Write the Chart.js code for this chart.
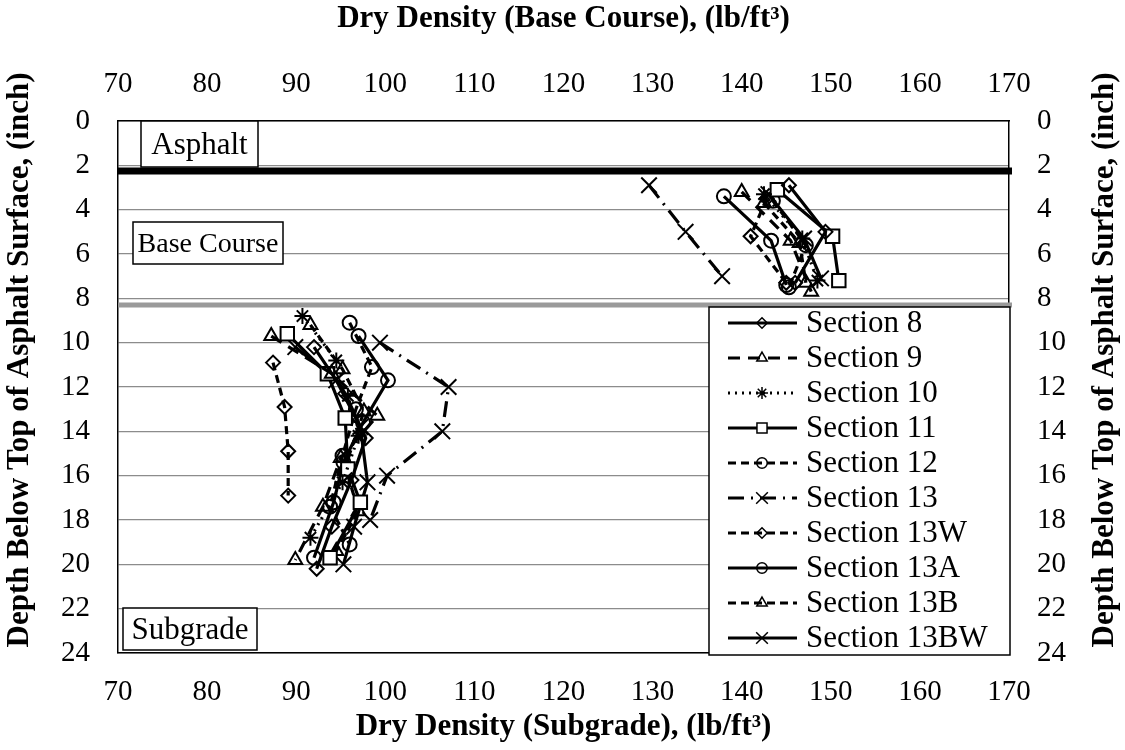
<!DOCTYPE html>
<html>
<head>
<meta charset="utf-8">
<script src="https://cdn.jsdelivr.net/npm/chart.js@4.4.1/dist/chart.umd.min.js"></script>
<style>
  html, body { margin: 0; padding: 0; background: #ffffff; }
  #wrap { width: 1125px; height: 750px; position: relative; }
</style>
</head>
<body>
<div id="wrap"><canvas id="c"></canvas></div>
<script>
// Dry density (lb/ft3) vs. depth below top of asphalt (inch), [density, depth]
// Base course readings (plotted on the top axis)
const base8    = [[145.3, 2.9], [149.4, 5.0], [146.0, 7.3]];
const base9    = [[140.0, 3.2], [145.5, 5.4], [147.8, 7.7]];
const base10   = [[142.5, 3.3], [146.8, 5.3], [148.5, 7.2]];
const base11   = [[144.0, 3.1], [150.2, 5.2], [150.9, 7.2]];
const base12   = [[143.5, 3.6], [147.2, 5.6], [145.3, 7.5]];
const base13   = [[129.6, 2.9], [133.7, 5.0], [137.8, 7.0]];
const base13W  = [[142.8, 3.5], [141.0, 5.2], [145.0, 7.3]];
const base13A  = [[138.0, 3.4], [143.3, 5.4], [145.0, 7.4]];
const base13B  = [[142.5, 3.7], [146.5, 5.5], [147.2, 7.3]];
const base13BW = [[143.0, 3.3], [147.0, 5.3], [148.9, 7.1]];

// Subgrade readings (plotted on the bottom axis)
const sub8    = [[92.0, 10.2], [95.5, 12.3], [97.8, 14.3], [96.2, 16.2], [94.0, 18.3], [92.3, 20.2]];
const sub9    = [[87.2, 9.7], [94.0, 11.4], [99.1, 13.3], [95.0, 15.2], [93.0, 17.4], [89.9, 19.8]];
const sub10   = [[90.7, 8.8], [94.5, 10.8], [95.8, 12.4], [97.0, 14.2], [95.2, 16.3], [91.6, 18.8]];
const sub11   = [[89.0, 9.6], [93.5, 11.4], [95.5, 13.4], [95.8, 15.7], [97.2, 17.2], [93.8, 19.7]];
const sub12   = [[96.0, 9.1], [98.5, 11.1], [96.7, 13.0], [95.2, 15.1], [93.8, 17.4], [96.0, 19.1]];
const sub13   = [[99.4, 10.0], [107.1, 12.0], [106.4, 14.0], [100.2, 16.0], [98.3, 18.0]];
const sub13W  = [[87.4, 10.9], [88.7, 12.9], [89.1, 14.9], [89.1, 16.9]];
const sub13A  = [[97.0, 9.7], [100.3, 11.7], [97.5, 13.6], [95.3, 15.4], [94.2, 17.2], [92.0, 19.7]];
const sub13B  = [[91.6, 9.2], [95.2, 11.2], [97.6, 13.1], [95.5, 15.6], [97.0, 17.6], [94.5, 19.4]];
const sub13BW = [[89.9, 10.2], [94.5, 11.7], [97.2, 13.8], [98.0, 16.3], [96.5, 18.3], [95.3, 20.0]];

const sectionNames = ['Section 8', 'Section 9', 'Section 10', 'Section 11', 'Section 12',
                      'Section 13', 'Section 13W', 'Section 13A', 'Section 13B', 'Section 13BW'];
const baseSets = [base8, base9, base10, base11, base12, base13, base13W, base13A, base13B, base13BW];
const subSets  = [sub8, sub9, sub10, sub11, sub12, sub13, sub13W, sub13A, sub13B, sub13BW];

// Axis ranges and tick spacing
const densityMin = 70, densityMax = 170, densityStep = 10;
const depthMin = 0, depthMax = 24, depthStep = 2;

// Layer boundaries (inch) and layer labels
const asphaltBottom = 2.25;
const baseBottom = 8.3;
const layerLabels = ['Asphalt', 'Base Course', 'Subgrade'];

const titleTop = 'Dry Density (Base Course), (lb/ft\u00B3)';
const titleBottom = 'Dry Density (Subgrade), (lb/ft\u00B3)';
const titleDepth = 'Depth Below Top of Asphalt Surface, (inch)';

// Line / marker style for each section
const styles = [
  { dash: [],              point: 'rectRot',  r: 7,   fill: 'rgba(0,0,0,0)' },
  { dash: [12, 8],         point: 'triangle', r: 8,   fill: 'rgba(0,0,0,0)' },
  { dash: [2, 5],          point: 'star',     r: 8,   fill: 'rgba(0,0,0,0)' },
  { dash: [],              point: 'rect',     r: 9.5, fill: '#ffffff' },
  { dash: [8, 5],          point: 'circle',   r: 7,   fill: 'rgba(0,0,0,0)' },
  { dash: [16, 7, 2, 7],   point: 'crossRot', r: 11,  fill: 'rgba(0,0,0,0)' },
  { dash: [8, 5],          point: 'rectRot',  r: 7,   fill: 'rgba(0,0,0,0)' },
  { dash: [],              point: 'circle',   r: 7,   fill: 'rgba(0,0,0,0)' },
  { dash: [8, 5],          point: 'triangle', r: 8,   fill: 'rgba(0,0,0,0)' },
  { dash: [],              point: 'crossRot', r: 11,  fill: 'rgba(0,0,0,0)' }
];

const SERIF = "'Liberation Serif', 'Times New Roman', serif";

function toPoints(pairs) { return pairs.map(p => ({ x: p[0], y: p[1] })); }

function makeDataset(label, pairs, st, xAxisID) {
  return {
    label: label,
    data: toPoints(pairs),
    xAxisID: xAxisID,
    yAxisID: 'y',
    showLine: true,
    borderColor: '#000000',
    borderWidth: 3.2,
    borderDash: st.dash,
    pointStyle: st.point,
    pointRadius: st.r,
    pointHoverRadius: st.r,
    pointBorderWidth: 2,
    pointBorderColor: '#000000',
    pointBackgroundColor: st.fill,
    tension: 0
  };
}

const datasets = [];
sectionNames.forEach((name, i) => {
  datasets.push(makeDataset(name, baseSets[i], styles[i], 'x2'));
  datasets.push(makeDataset(name, subSets[i], styles[i], 'x'));
});

// Layer boundary lines and layer label boxes
const layerPlugin = {
  id: 'layers',
  beforeDatasetsDraw(chart) {
    const { ctx, chartArea: a, scales } = chart;
    const ys = scales.y;
    ctx.save();
    // asphalt / base boundary
    ctx.strokeStyle = '#000000';
    ctx.lineWidth = 7;
    let yy = ys.getPixelForValue(asphaltBottom);
    ctx.beginPath(); ctx.moveTo(a.left, yy); ctx.lineTo(a.right + 3, yy); ctx.stroke();
    // base / subgrade boundary
    ctx.strokeStyle = '#9a9a9a';
    ctx.lineWidth = 5;
    yy = ys.getPixelForValue(baseBottom);
    ctx.beginPath(); ctx.moveTo(a.left, yy); ctx.lineTo(a.right + 3, yy); ctx.stroke();

    // label boxes
    const boxes = [
      { text: layerLabels[0], x: a.left + 23, y: a.top,         w: 117, h: 46, size: 31 },
      { text: layerLabels[1], x: a.left + 15, y: a.top + 101,   w: 150, h: 42, size: 28 },
      { text: layerLabels[2], x: a.left + 5,  y: a.bottom - 45, w: 134, h: 42, size: 31 }
    ];
    ctx.textAlign = 'center';
    ctx.textBaseline = 'middle';
    boxes.forEach(b => {
      ctx.fillStyle = '#ffffff';
      ctx.fillRect(b.x, b.y, b.w, b.h);
      ctx.strokeStyle = '#000000';
      ctx.lineWidth = 1.5;
      ctx.strokeRect(b.x, b.y, b.w, b.h);
      ctx.fillStyle = '#000000';
      ctx.font = b.size + 'px ' + SERIF;
      ctx.fillText(b.text, b.x + b.w / 2, b.y + b.h / 2 + 2);
    });
    ctx.restore();
  }
};

// Legend box: line sample with marker, then section name
const legendPlugin = {
  id: 'sectionLegend',
  afterDatasetsDraw(chart) {
    const { ctx } = chart;
    const left = 709, top = 307, width = 301, height = 348;
    const rowH = 35, firstRow = 323;
    ctx.save();
    ctx.fillStyle = '#ffffff';
    ctx.fillRect(left, top, width, height);
    ctx.strokeStyle = '#000000';
    ctx.lineWidth = 1.5;
    ctx.strokeRect(left, top, width, height);
    ctx.font = '31px ' + SERIF;
    ctx.textAlign = 'left';
    ctx.textBaseline = 'middle';
    sectionNames.forEach((name, i) => {
      const st = styles[i];
      const y = firstRow + i * rowH;
      ctx.strokeStyle = '#000000';
      ctx.lineWidth = 3;
      ctx.setLineDash(st.dash);
      ctx.beginPath(); ctx.moveTo(728, y); ctx.lineTo(797, y); ctx.stroke();
      ctx.setLineDash([]);
      ctx.fillStyle = st.fill === '#ffffff' ? '#ffffff' : 'rgba(0,0,0,0)';
      ctx.lineWidth = 1.5;
      Chart.helpers.drawPoint(ctx, {
        pointStyle: st.point, radius: st.r * 0.75, borderWidth: 1.5, rotation: 0
      }, 762, y);
      ctx.fillStyle = '#000000';
      ctx.fillText(name, 806, y + 1);
    });
    ctx.restore();
  }
};

// Axis titles
const titlePlugin = {
  id: 'axisTitles',
  afterDraw(chart) {
    const { ctx, chartArea: a } = chart;
    const cx = (a.left + a.right) / 2;
    ctx.save();
    ctx.fillStyle = '#000000';
    ctx.font = 'bold 31px ' + SERIF;
    ctx.textAlign = 'center';
    ctx.textBaseline = 'middle';
    ctx.fillText(titleTop, cx, 19);
    ctx.fillText(titleBottom, cx, 727);
    [20, 1105].forEach(x => {
      ctx.save();
      ctx.translate(x, 360);
      ctx.rotate(-Math.PI / 2);
      ctx.fillText(titleDepth, 0, 0);
      ctx.restore();
    });
    ctx.restore();
  }
};

const tickFont = { family: SERIF, size: 29 };

function densityAxis(position, size) {
  return {
    type: 'linear',
    position: position,
    min: densityMin, max: densityMax,
    ticks: { stepSize: densityStep, font: tickFont, color: '#000000', padding: position === 'top' ? 19 : 22, maxRotation: 0 },
    grid: { display: false, drawTicks: false },
    border: { display: true, color: '#000000', width: 1.5 },
    afterFit(scale) { scale.height = size; }
  };
}

function depthAxis(position, size, showGrid) {
  return {
    type: 'linear',
    position: position,
    reverse: true,
    min: depthMin, max: depthMax,
    ticks: { stepSize: depthStep, font: tickFont, color: '#000000', padding: 28 },
    grid: { display: showGrid, drawTicks: false, color: '#8c8c8c', lineWidth: 1.2 },
    border: { display: true, color: '#000000', width: 1.5 },
    afterFit(scale) { scale.width = size; }
  };
}

new Chart(document.getElementById('c'), {
  type: 'scatter',
  data: { datasets: datasets },
  options: {
    responsive: true,
    maintainAspectRatio: false,
    animation: false,
    events: [],
    layout: { padding: 0 },
    scales: {
      x:  densityAxis('bottom', 97),
      x2: densityAxis('top', 121),
      y:  depthAxis('left', 118, true),
      y2: depthAxis('right', 116, false)
    },
    plugins: {
      legend: { display: false },
      tooltip: { enabled: false },
      title: { display: false }
    }
  },
  plugins: [layerPlugin, legendPlugin, titlePlugin]
});
</script>
</body>
</html>
